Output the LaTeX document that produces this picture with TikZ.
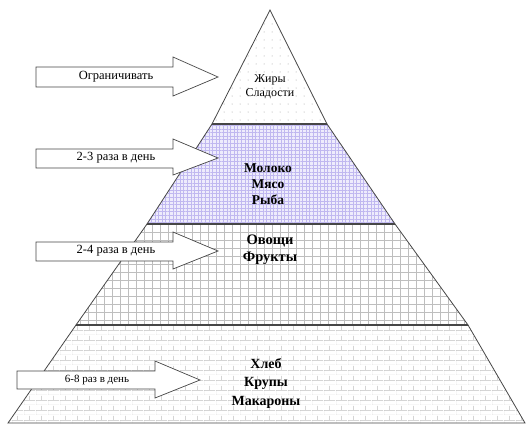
\documentclass[tikz,border=0pt]{standalone}
\usepackage{fontspec}
\setmainfont{Liberation Serif}
\usepackage{tikz}
\usetikzlibrary{patterns, patterns.meta, positioning, calc}

% brick pattern for the bottom layer
\pgfdeclarepatternformonly{wallbricks}{\pgfqpoint{0pt}{0pt}}{\pgfqpoint{12pt}{10pt}}{\pgfqpoint{12pt}{10pt}}{
  \pgfsetlinewidth{0.45pt}
  \pgfpathmoveto{\pgfqpoint{0pt}{0pt}}\pgfpathlineto{\pgfqpoint{12pt}{0pt}}
  \pgfpathmoveto{\pgfqpoint{0pt}{5pt}}\pgfpathlineto{\pgfqpoint{12pt}{5pt}}
  \pgfpathmoveto{\pgfqpoint{0pt}{0pt}}\pgfpathlineto{\pgfqpoint{0pt}{5pt}}
  \pgfpathmoveto{\pgfqpoint{6pt}{5pt}}\pgfpathlineto{\pgfqpoint{6pt}{10pt}}
  \pgfusepath{stroke}}

\definecolor{lavgrid}{RGB}{192,184,240}
\definecolor{lavfill}{RGB}{238,236,252}
\definecolor{greygrid}{RGB}{190,190,190}
\definecolor{edgegrey}{RGB}{70,70,70}

\begin{document}
\begin{tikzpicture}[
            x=1pt, y=-1pt,
            layer/.style={draw=edgegrey, line width=0.8pt},
            arrowbox/.style={draw=edgegrey, fill=white, line width=0.7pt},
            arrowtext/.style={font=\rmfamily\fontsize{12.5}{14}\selectfont, inner sep=0pt},
            foodtext/.style={align=center, inner sep=0pt}
        ]
\useasboundingbox (0,0) rectangle (527,424);

% Pyramid corners
            \coordinate (apex) at (270,10);
            \coordinate (l1) at (212,124);  \coordinate (r1) at (327,124);
            \coordinate (l2) at (147,224);  \coordinate (r2) at (395,224);
            \coordinate (l3) at (76,325);   \coordinate (r3) at (468,325);
            \coordinate (l4) at (8,423);    \coordinate (r4) at (525,423);

% Layers
            \draw[layer, pattern={Dots[distance=8pt, radius=0.5pt]}, pattern color=gray!80]
                (apex) -- (r1) -- (l1) -- cycle;
            \draw[layer, preaction={fill=lavfill}, pattern={Hatch[distance=3.6pt, line width=0.4pt]}, pattern color=lavgrid]
                (l1) -- (r1) -- (r2) -- (l2) -- cycle;
            \draw[layer, pattern={Hatch[distance=8pt, line width=0.5pt]}, pattern color=greygrid]
                (l2) -- (r2) -- (r3) -- (l3) -- cycle;
            \draw[layer, pattern=wallbricks, pattern color=greygrid]
                (l3) -- (r3) -- (r4) -- (l4) -- cycle;
            \draw[edgegrey, line width=1.1pt] (l1) -- (r1) (l2) -- (r2) (l3) -- (r3);

% Layer texts
            \node[foodtext, font=\fontsize{12}{14}\selectfont] (fats) at (270,87) {Жиры\\Сладости};
            \node[foodtext, font=\fontsize{13.5}{16}\selectfont\bfseries] (dairy) at (268,184) {Молоко\\Мясо\\Рыба};
            \node[foodtext, font=\fontsize{14.5}{17}\selectfont\bfseries] (veg) at (270,250) {Овощи\\Фрукты};
            \node[foodtext, font=\fontsize{14}{18.5}\selectfont\bfseries] (bread) at (266,383) {Хлеб\\Крупы\\Макароны};

% Block arrows
            \draw[arrowbox] (36,67) -- (173,67) -- (173,57) -- (218,77) -- (173,96) -- (173,87) -- (36,87) -- cycle;
            \draw[arrowbox] (36,149) -- (173,149) -- (173,139) -- (218,158) -- (173,175) -- (173,168) -- (36,168) -- cycle;
            \draw[arrowbox] (36,242) -- (173,242) -- (173,232) -- (218,251) -- (173,269) -- (173,261) -- (36,261) -- cycle;
            \draw[arrowbox] (17,371) -- (155,371) -- (155,361) -- (200,380) -- (155,398) -- (155,389) -- (17,389) -- cycle;

% Arrow labels
            \node[arrowtext] (limit) at (116,77) {Ограничивать};
            \node[arrowtext] (twothree) at (116,158) {2-3 раза в день};
            \node[arrowtext] (twofour) at (116,251) {2-4 раза в день};
            \node[arrowtext, font=\rmfamily\fontsize{11}{12}\selectfont] (sixeight) at (97,380) {6-8 раз в день};

        \end{tikzpicture}
\end{document}
